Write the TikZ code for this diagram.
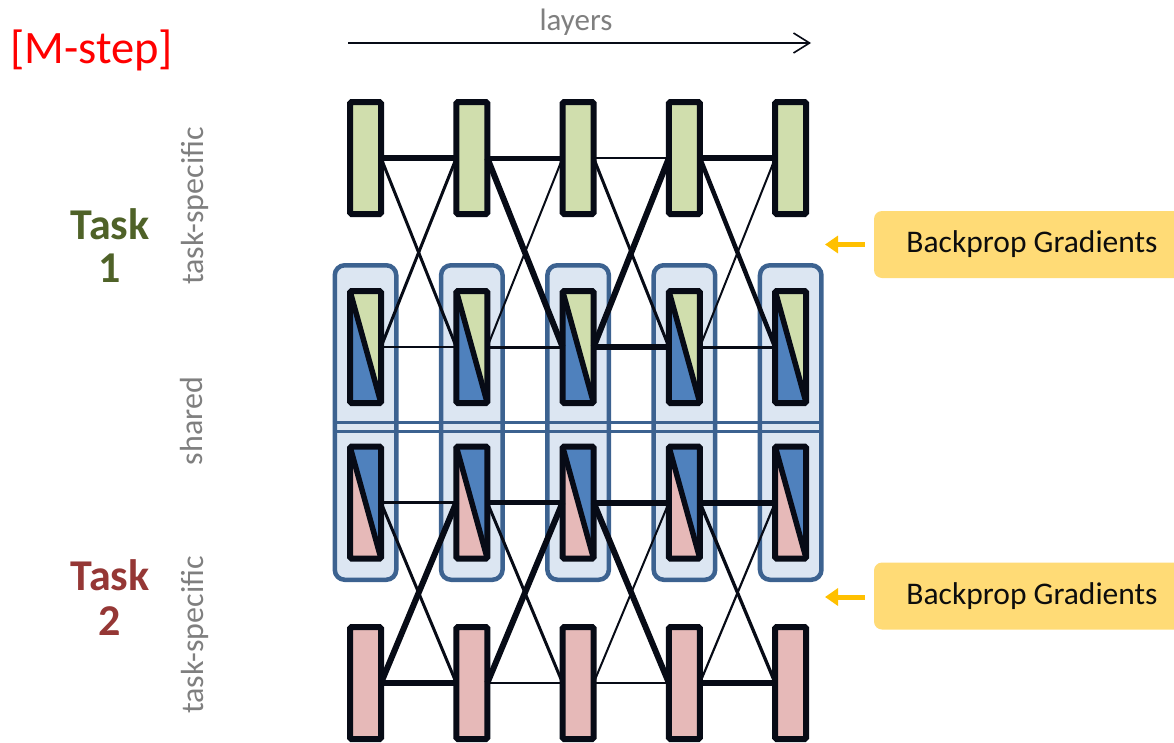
\documentclass[tikz,border=0pt]{standalone}
\usepackage{fontspec}
\setmainfont{Carlito}
\usetikzlibrary{arrows.meta,backgrounds}

\definecolor{leaf}{HTML}{D0DEAD}
\definecolor{sea}{HTML}{4F81BD}
\definecolor{rose}{HTML}{E6B9B8}
\definecolor{pane}{HTML}{DCE6F2}
\definecolor{paneedge}{HTML}{3C6290}
\definecolor{ink}{HTML}{070B16}
\definecolor{honey}{HTML}{FFDB76}
\definecolor{amber}{HTML}{FFC000}
\definecolor{olive}{HTML}{4F6228}
\definecolor{brick}{HTML}{953735}
\definecolor{slate}{HTML}{7F7F7F}

\begin{document}
\begin{tikzpicture}[x=1pt,y=-1pt,
  unit/.style={draw=ink, line width=6pt, rounded corners=1.5pt,
    minimum width=31pt, minimum height=112pt, inner sep=0pt, outer sep=0pt},
  panebox/.style={draw=paneedge, fill=pane, line width=4.5pt, rounded corners=10pt,
    minimum width=61.5pt, minimum height=314.5pt, inner sep=0pt, outer sep=0pt},
  gradbox/.style={fill=honey, rounded corners=8pt, minimum width=316pt,
    minimum height=67pt, inner sep=0pt, text=black!95,
    font=\fontsize{31.5}{36}\selectfont},
  gradarrow/.style={amber, line width=5pt, -{Triangle[length=13pt,width=17pt]}, shorten <=9pt},
  side/.style={rotate=90, anchor=base, inner sep=0pt, text=slate,
    font=\fontsize{32}{36}\selectfont},
  tasklbl/.style={anchor=base, inner sep=0pt, font=\fontsize{44}{48}\selectfont\bfseries},
  link/.style={draw=ink, line width=#1}
]
\useasboundingbox (0,0) rectangle (1174,742);
\clip (0,0) rectangle (1174,742);

% headings
\node[anchor=base west, inner sep=0pt, text=red, font=\fontsize{46.5}{50}\selectfont]
  (mstep) at (10,63) {[M-step]};
\node[anchor=base, inner sep=0pt, text=slate, font=\fontsize{31}{36}\selectfont]
  (layers) at (576,30) {layers};
\coordinate (lstart) at (348,43);
\coordinate (lend) at (811,43);
\draw[ink, line width=1.6pt, -{Straight Barb[length=16pt,width=20pt]}] (lstart) -- (lend);

% task labels
\node[tasklbl, text=olive] (task1a) at (110,239) {Task};
\node[tasklbl, text=olive] (task1b) at (110,282) {1};
\node[tasklbl, text=brick] (task2a) at (110,590) {Task};
\node[tasklbl, text=brick] (task2b) at (110,635) {2};
\node[side] (spec1) at (203,206) {task-specific};
\node[side] (shared) at (202,421) {shared};
\node[side] (spec2) at (203,635) {task-specific};

% layer units
\foreach \i/\x in {1/365.5,2/471.8,3/578.1,4/684.4,5/790.7} {
  \node[unit, fill=leaf] (t\i) at (\x,158) {};
  \node[unit] (a\i) at (\x,347) {};
  \node[unit] (b\i) at (\x,502.5) {};
  \node[unit, fill=rose] (p\i) at (\x,683) {};
}

% shared containers and split fills behind the units
\begin{scope}[on background layer]
  \foreach \i/\x in {1/365.5,2/471.8,3/578.1,4/684.4,5/790.7}
    \node[panebox] (c\i) at (\x,422.5) {};
  \draw[paneedge, line width=3pt] ([xshift=-2pt]c1.west) -- ([xshift=2pt]c5.east);
  \draw[paneedge, line width=3pt] ([xshift=-2pt,yshift=-8.5pt]c1.west) -- ([xshift=2pt,yshift=-8.5pt]c5.east);
  \foreach \i in {1,...,5} {
    \fill[leaf] (a\i.north west) -- (a\i.north east) -- (a\i.south east) -- cycle;
    \fill[sea]  (a\i.north west) -- (a\i.south west) -- (a\i.south east) -- cycle;
    \fill[sea]  (b\i.north west) -- (b\i.north east) -- (b\i.south east) -- cycle;
    \fill[rose] (b\i.north west) -- (b\i.south west) -- (b\i.south east) -- cycle;
  }
\end{scope}
\foreach \i in {1,...,5} {
  \draw[ink, line width=5.5pt] (a\i.north west) -- (a\i.south east);
  \draw[ink, line width=5.5pt] (b\i.north west) -- (b\i.south east);
}

% task 1 specific row
\draw[link=6pt]   (t1.east) -- (t2.west);
\draw[link=5pt]   (t2.east) -- (t3.west);
\draw[link=2pt]   (t3.east) -- (t4.west);
\draw[link=6pt]   (t4.east) -- (t5.west);
% task 1 row <-> shared row
\draw[link=3pt]   (t1.east) -- (a2.west);
\draw[link=3pt]   (a1.east) -- (t2.west);
\draw[link=6pt]   (t2.east) -- (a3.west);
\draw[link=2pt]   (a2.east) -- (t3.west);
\draw[link=3pt]   (t3.east) -- (a4.west);
\draw[link=6pt]   (a3.east) -- (t4.west);
\draw[link=4.5pt] (t4.east) -- (a5.west);
\draw[link=2pt]   (a4.east) -- (t5.west);
% shared rows
\draw[link=2.5pt] (a1.east) -- (a2.west);
\draw[link=3pt]   (a2.east) -- (a3.west);
\draw[link=6pt]   (a3.east) -- (a4.west);
\draw[link=3pt]   (a4.east) -- (a5.west);
\draw[link=2.2pt] (b1.east) -- (b2.west);
\draw[link=4.5pt] (b2.east) -- (b3.west);
\draw[link=6pt]   (b3.east) -- (b4.west);
\draw[link=6pt]   (b4.east) -- (b5.west);
% shared row <-> task 2 row
\draw[link=3pt]   (b1.east) -- (p2.west);
\draw[link=6pt]   (p1.east) -- (b2.west);
\draw[link=3pt]   (b2.east) -- (p3.west);
\draw[link=6pt]   (p2.east) -- (b3.west);
\draw[link=6pt]   (b3.east) -- (p4.west);
\draw[link=2pt]   (p3.east) -- (b4.west);
\draw[link=3.3pt] (b4.east) -- (p5.west);
\draw[link=2.2pt] (p4.east) -- (b5.west);
% task 2 specific row
\draw[link=6pt]   (p1.east) -- (p2.west);
\draw[link=2.2pt] (p2.east) -- (p3.west);
\draw[link=2.2pt] (p3.east) -- (p4.west);
\draw[link=6pt]   (p4.east) -- (p5.west);

% gradient callouts
\node[gradbox] (g1) at (1032,244.5) {Backprop Gradients};
\node[gradbox] (g2) at (1032,596) {Backprop Gradients};
\coordinate (h1) at (825,244.5);
\coordinate (h2) at (825,597);
\draw[gradarrow] (g1.west) -- (h1);
\draw[gradarrow] (g2.west |- h2) -- (h2);
\end{tikzpicture}
\end{document}
